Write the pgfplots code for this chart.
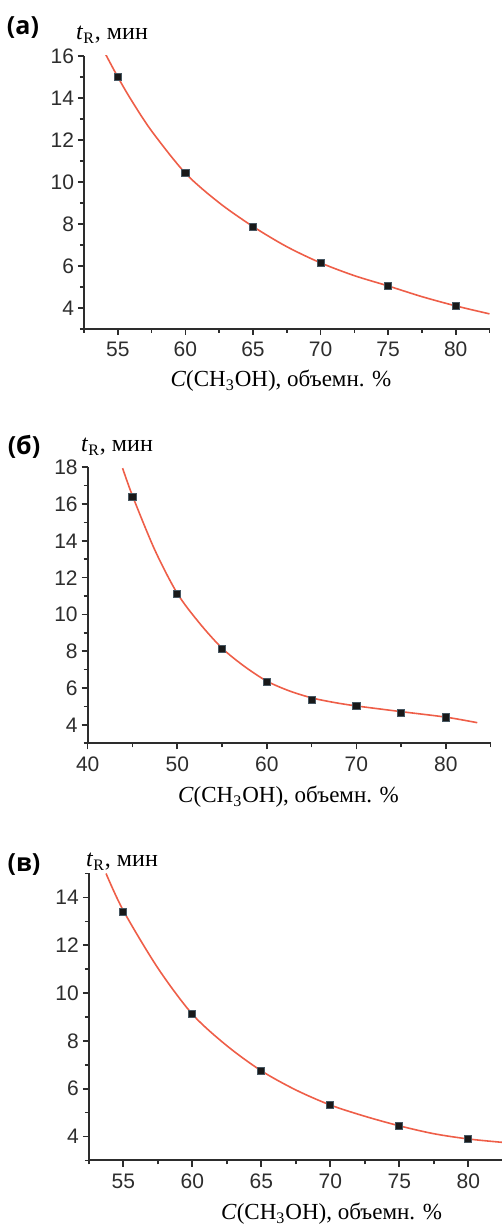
\documentclass[border=0pt]{standalone}
\usepackage{fontspec}
\setmainfont{Liberation Serif}
\setsansfont{Liberation Sans}
\newfontfamily\lblfont{Open Sans}
\usepackage{pgfplots}
\pgfplotsset{compat=1.18}

\definecolor{fitred}{RGB}{238,94,72}
\definecolor{axgray}{RGB}{45,45,45}

\pgfplotsset{
  panel/.style={
    scale only axis,
    anchor=south west,
    axis x line*=bottom,
    axis y line*=left,
    tick align=outside,
    major tick length=3pt,
    minor tick length=2pt,
    axis line style={axgray, line width=1pt},
    every tick/.style={axgray, line width=0.8pt},
    tick label style={font=\sffamily\fontsize{10.5}{12}\selectfont, text=axgray},
    yticklabel style={xshift=1.5pt},
    /pgf/number format/assume math mode=true,
  },
  fit/.style={fitred, line width=0.8pt, smooth, no markers},
  pts/.style={only marks, mark=square*, mark size=1.8pt,
    mark options={fill=black!90, draw=black!70!cyan}},
}

\newcommand{\ylab}{\textit{t}\textsubscript{R}, мин}
\newcommand{\xlab}{\textit{C}(CH\textsubscript{3}OH), объемн. \%}
\newcommand{\plab}{\lblfont\bfseries\fontsize{12.5}{14}\selectfont}

\begin{document}
\begin{tikzpicture}
\useasboundingbox (0,0) rectangle (251pt,612.5pt);

% (a)
\begin{axis}[panel, at={(42pt,448pt)}, width=202.75pt, height=136.5pt,
    xmin=52.5, xmax=82.5, ymin=3, ymax=16,
    xtick={55,60,...,80}, minor xtick={52.5,57.5,...,82.5},
    ytick={4,6,...,16}, minor ytick={3,5,...,15}]
\addplot[fit] coordinates {
  (54.1,16.08) (55,15.0) (56,13.9) (57.5,12.43) (60,10.42) (62.5,9.01)
  (65,7.88) (67.5,6.92) (70,6.15) (72.5,5.54) (75,5.05) (77.5,4.54)
  (80,4.1) (82.5,3.72)};
\addplot[pts] coordinates {
  (55,15.0) (60,10.42) (65,7.88) (70,6.15) (75,5.05) (80,4.1)};
\end{axis}
\node[font=\plab] at (11.5pt,598.5pt) {(а)};
\node[font=\fontsize{12}{14}\selectfont] at (56pt,595pt) {\ylab};
\node[font=\fontsize{11.5}{13}\selectfont] at (140.5pt,422pt) {\xlab};

% (б)
\begin{axis}[panel, at={(43.85pt,240.85pt)}, width=201.5pt, height=138pt,
    xmin=40, xmax=85, ymin=3, ymax=18,
    xtick={40,50,...,80}, minor xtick={45,55,...,85},
    ytick={4,6,...,18}, minor ytick={3,5,...,17}]
\addplot[fit] coordinates {
  (43.9,17.95) (45,16.45) (47.5,13.5) (50,11.15) (52.5,9.52) (55,8.17)
  (57.5,7.18) (60,6.38) (62.5,5.85) (65,5.47) (67.5,5.22) (70,5.03)
  (75,4.72) (80,4.42) (83.5,4.12)};
\addplot[pts] coordinates {
  (45,16.37) (50,11.11) (55,8.14) (60,6.33) (65,5.35) (70,5.03) (75,4.63) (80,4.41)};
\end{axis}
\node[font=\plab] at (12pt,389pt) {(б)};
\node[font=\fontsize{12}{14}\selectfont] at (58.5pt,389pt) {\ylab};
\node[font=\fontsize{11.5}{13}\selectfont] at (144.25pt,214pt) {\xlab};

% (в)
\begin{axis}[panel, at={(44.4pt,32.25pt)}, width=207pt, height=143.5pt,
    xmin=52.5, xmax=82.5, ymin=3, ymax=15,
    xtick={55,60,...,80}, minor xtick={52.5,57.5,...,82.5},
    ytick={4,6,...,14}, minor ytick={3,5,...,15}]
\addplot[fit] coordinates {
  (53.75,15.0) (55,13.45) (57.5,11.05) (60,9.12) (62.5,7.8) (65,6.75)
  (67.5,5.95) (70,5.32) (72.5,4.85) (75,4.45) (77.5,4.12) (80,3.9)
  (82.44,3.76)};
\addplot[pts] coordinates {
  (55,13.41) (60,9.12) (65,6.74) (70,5.31) (75,4.44) (80,3.9)};
\end{axis}
\node[font=\plab] at (12pt,180pt) {(в)};
\node[font=\fontsize{12}{14}\selectfont] at (61pt,181.5pt) {\ylab};
\node[font=\fontsize{11.5}{13}\selectfont] at (165.8pt,5.5pt) {\xlab};
\end{tikzpicture}
\end{document}
